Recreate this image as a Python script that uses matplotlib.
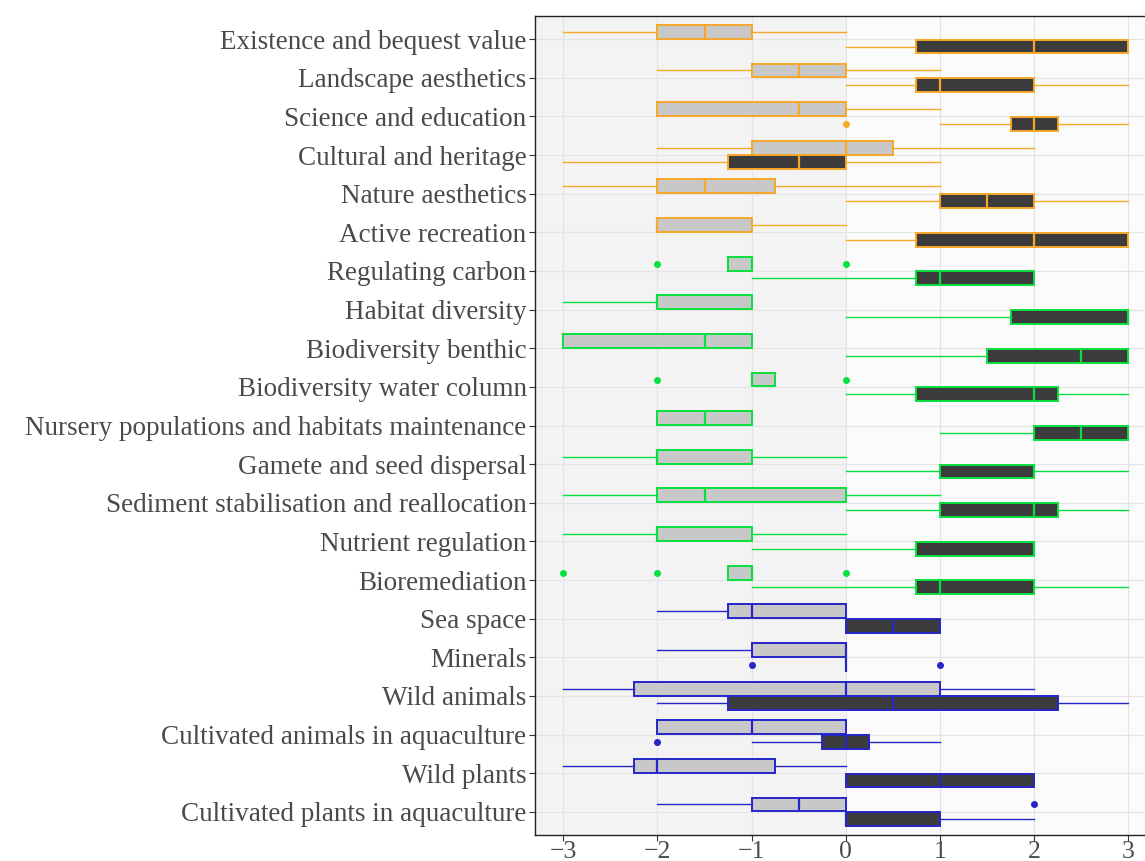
import matplotlib.pyplot as plt

categories = [
    "Existence and bequest value", "Landscape aesthetics", "Science and education",
    "Cultural and heritage", "Nature aesthetics", "Active recreation",
    "Regulating carbon", "Habitat diversity", "Biodiversity benthic",
    "Biodiversity water column", "Nursery populations and habitats maintenance",
    "Gamete and seed dispersal", "Sediment stabilisation and reallocation",
    "Nutrient regulation", "Bioremediation", "Sea space", "Minerals",
    "Wild animals", "Cultivated animals in aquaculture", "Wild plants",
    "Cultivated plants in aquaculture",
]
groups = ["cultural"] * 6 + ["regulating"] * 9 + ["provisioning"] * 6
group_colors = {"cultural": "#f7a72a", "regulating": "#08e040", "provisioning": "#2525c8"}

# (whisker low, Q1, median, Q3, whisker high)
light_stats = [
    (-3, -2, -1.5, -1, 0), (-2, -1, -0.5, 0, 1), (-2, -2, -0.5, 0, 1),
    (-2, -1, 0, 0.5, 2), (-3, -2, -1.5, -0.75, 1), (-2, -2, -2, -1, 0),
    (-1.25, -1.25, -1, -1, -1), (-3, -2, -2, -1, -1), (-3, -3, -1.5, -1, -1),
    (-1, -1, -1, -0.75, -0.75), (-2, -2, -1.5, -1, -1), (-3, -2, -2, -1, 0),
    (-3, -2, -1.5, 0, 1), (-3, -2, -2, -1, 0), (-1.25, -1.25, -1, -1, -1),
    (-2, -1.25, -1, 0, 0), (-2, -1, 0, 0, 0), (-3, -2.25, 0, 1, 2),
    (-2, -2, -1, 0, 0), (-3, -2.25, -2, -0.75, 0), (-2, -1, -0.5, 0, 0),
]
dark_stats = [
    (0, 0.75, 2, 3, 3), (0, 0.75, 1, 2, 3), (1, 1.75, 2, 2.25, 3),
    (-3, -1.25, -0.5, 0, 1), (0, 1, 1.5, 2, 3), (0, 0.75, 2, 3, 3),
    (-1, 0.75, 1, 2, 2), (0, 1.75, 3, 3, 3), (0, 1.5, 2.5, 3, 3),
    (0, 0.75, 2, 2.25, 3), (1, 2, 2.5, 3, 3), (0, 1, 2, 2, 3),
    (0, 1, 2, 2.25, 3), (-1, 0.75, 2, 2, 2), (-1, 0.75, 1, 2, 3),
    (0, 0, 0.5, 1, 1), (0, 0, 0, 0, 0), (-2, -1.25, 0.5, 2.25, 3),
    (-1, -0.25, 0, 0.25, 1), (0, 0, 1, 2, 2), (0, 0, 0, 1, 2),
]
light_outliers = [[], [], [], [], [], [], [-2, 0], [], [], [-2, 0], [], [], [], [],
                  [-3, -2, 0], [], [], [], [], [], [2]]
dark_outliers = [[], [], [0], [], [], [], [], [], [], [], [], [], [], [], [],
                 [], [-1, 1], [], [-2], [], []]

n = len(categories)
ypos = [n - i for i in range(n)]
offset = 0.19
box_h = 0.36

plt.rcParams["font.family"] = ["Liberation Serif", "DejaVu Serif"]

fig = plt.figure(figsize=(11.45, 8.61), dpi=100)
ax = fig.add_axes([0.4672, 0.0302, 0.543, 0.9512])


def to_stats(stats, outliers):
    return [dict(whislo=s[0], q1=s[1], med=s[2], q3=s[3], whishi=s[4], fliers=o)
            for s, o in zip(stats, outliers)]


def draw(stats, outliers, positions, fill):
    art = ax.bxp(to_stats(stats, outliers), positions=positions, widths=box_h,
                 orientation="horizontal", patch_artist=True, showcaps=False,
                 manage_ticks=False, zorder=3)
    for i, g in enumerate(groups):
        c = group_colors[g]
        art["boxes"][i].set(facecolor=fill, edgecolor=c, linewidth=1.4)
        art["medians"][i].set(color=c, linewidth=1.6)
        for w in art["whiskers"][2 * i:2 * i + 2]:
            w.set(color=c, linewidth=1.0, linestyle="-")
        art["fliers"][i].set(marker="o", markersize=4, markerfacecolor=c,
                             markeredgecolor=c, linestyle="none")


ax.axvspan(-3.3, 0, color="#f3f3f3", zorder=0, linewidth=0)
ax.set_facecolor("#fbfbfb")

draw(light_stats, light_outliers, [y + offset for y in ypos], "#c8c8c8")
draw(dark_stats, dark_outliers, [y - offset for y in ypos], "#3c3c3c")

ax.set_xlim(-3.3, 3.3)
ax.set_ylim(0.4, 21.6)
ax.set_xticks([-3, -2, -1, 0, 1, 2, 3])
ax.set_xticklabels(["\u22123", "\u22122", "\u22121", "0", "1", "2", "3"])
ax.set_yticks(ypos)
ax.set_yticklabels(categories)
ax.grid(True, color="#e4e4e4", linewidth=0.9)
ax.set_axisbelow(True)
ax.tick_params(axis="y", labelsize=19.5, labelcolor="#4a4a4a", color="#333333",
               length=4, width=0.8, pad=2)
ax.tick_params(axis="x", labelsize=18.5, labelcolor="#4a4a4a", color="#333333",
               length=4, width=0.8, pad=0)
for s in ax.spines.values():
    s.set_color("#222222")
    s.set_linewidth(1.0)

fig.savefig("out.png", dpi=100)
